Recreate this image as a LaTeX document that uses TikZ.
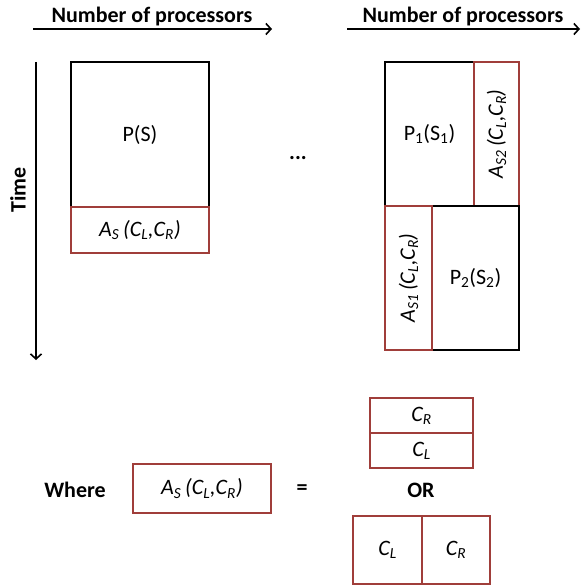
\documentclass[tikz,border=0pt]{standalone}
\usepackage{fontspec}
\setmainfont{Carlito}
\usetikzlibrary{arrows.meta}
\definecolor{boxred}{RGB}{160,62,58}

\tikzset{
  cell/.style={rectangle, anchor=north west, inner sep=0pt, outer sep=0pt,
    line width=2pt, font=\fontsize{22}{24}\selectfont},
  blkcell/.style={cell, draw=black},
  redcell/.style={cell, draw=boxred, font=\fontsize{22}{24}\selectfont\itshape},
  lbl/.style={font=\fontsize{22}{24}\selectfont\bfseries},
}
\newcommand{\asub}[1]{A\textsubscript{#1}\,(C\textsubscript{L},C\textsubscript{R})}

\begin{document}
\begin{tikzpicture}[x=1pt, y=-1pt, >={Straight Barb[length=5pt,width=11pt]}, line width=1.6pt]
  \useasboundingbox (0,0) rectangle (582,585);

  % Achsen
  \coordinate (xa0) at (33,29);
  \coordinate (xa1) at (272,29);
  \coordinate (xb0) at (347,29);
  \coordinate (xb1) at (580,29);
  \coordinate (t0) at (36,62);
  \coordinate (t1) at (36,360);
  \draw[->] (xa0) -- (xa1);
  \draw[->] (xb0) -- (xb1);
  \draw[->] (t0) -- (t1);
  \node[lbl, anchor=base] (npa) at (152,23) {Number of processors};
  \node[lbl, anchor=base] (npb) at (463,23) {Number of processors};
  \node[lbl, rotate=90] (time) at (18,190) {Time};

  % linker Plan
  \node[blkcell, minimum width=138pt, minimum height=145pt] (ps) at (71,62) {P(S)};
  \node[redcell, minimum width=138pt, minimum height=46pt] (as) at (71,207) {\asub{S}};

  \node[lbl] (dots) at (298,158) {...};

  % rechter Plan
  \node[blkcell, minimum width=89pt, minimum height=144pt] (p1) at (385,62) {P\textsubscript{1}(S\textsubscript{1})};
  \node[redcell, minimum width=45pt, minimum height=144pt] (as2) at (474,62) {};
  \node[blkcell, minimum width=87pt, minimum height=144pt] (p2) at (432,206) {P\textsubscript{2}(S\textsubscript{2})};
  \node[redcell, minimum width=47pt, minimum height=144pt] (as1) at (385,206) {};
  \node[redcell, anchor=center, draw=none, rotate=90] (as2t) at (as2.center) {\asub{S2}};
  \node[redcell, anchor=center, draw=none, rotate=90] (as1t) at (as1.center) {\asub{S1}};

  % Legende
  \node[lbl] (where) at (75,490) {Where};
  \node[redcell, minimum width=138pt, minimum height=49pt] (asl) at (133,464) {\asub{S}};
  \node[lbl] (eq) at (302,490) {=};
  \node[redcell, minimum width=103pt, minimum height=35pt] (cr1) at (370,398) {C\textsubscript{R}};
  \node[redcell, minimum width=103pt, minimum height=35pt] (cl1) at (370,433) {C\textsubscript{L}};
  \node[lbl] (or) at (421,490) {OR};
  \node[redcell, minimum width=69pt, minimum height=68pt] (cl2) at (353,516) {C\textsubscript{L}};
  \node[redcell, minimum width=68pt, minimum height=68pt] (cr2) at (422,516) {C\textsubscript{R}};
\end{tikzpicture}
\end{document}
